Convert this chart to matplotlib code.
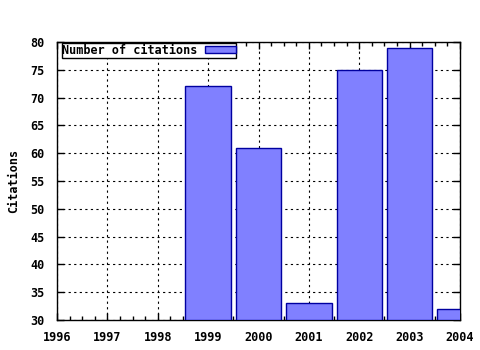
import matplotlib
matplotlib.use("Agg")
import matplotlib.pyplot as plt
from matplotlib.ticker import MultipleLocator

years = [1999, 2000, 2001, 2002, 2003, 2004]
citations = [72, 61, 33, 75, 79, 32]
x_ticks = [1996, 1997, 1998, 1999, 2000, 2001, 2002, 2003, 2004]
y_ticks = [30, 35, 40, 45, 50, 55, 60, 65, 70, 75, 80]

FS = 8.5
plt.rcParams['font.family'] = ['DejaVu Sans Mono']
plt.rcParams['font.weight'] = 'bold'
plt.rcParams['font.size'] = FS

fig = plt.figure(figsize=(4.8, 3.5), dpi=100)
ax = fig.add_axes([57/480, 1-320/350, (460-57)/480, (320-42)/350])

ax.bar(years, [c - 30 for c in citations], bottom=30, width=0.9,
       color='#8080ff', edgecolor='#0000a0', linewidth=1.0,
       label='Number of citations', zorder=3)

ax.set_xlim(1996, 2004)
ax.set_ylim(30, 80)
ax.set_xticks(x_ticks)
ax.set_xticklabels([str(x) for x in x_ticks])
ax.set_yticks(y_ticks)
ax.xaxis.set_minor_locator(MultipleLocator(0.25))
ax.tick_params(axis='both', which='both', direction='in', top=True, right=True,
               colors='black', labelsize=FS)
ax.tick_params(which='major', length=5, width=1)
ax.tick_params(which='minor', length=3, width=1)
ax.tick_params(axis='y', which='major', pad=9)
ax.tick_params(axis='x', which='major', pad=8)
ax.grid(True, which='major', linestyle=(0, (2, 3)), color='black', linewidth=0.8, zorder=0)
for s in ax.spines.values():
    s.set_linewidth(1)
    s.set_color('black')
ax.set_ylabel('Citations', fontsize=FS, fontweight='bold', labelpad=7)

leg = ax.legend(loc='upper left', bbox_to_anchor=(0.012, 0.995), markerfirst=False,
                frameon=True, fancybox=False, borderpad=0.05, handlelength=2.6,
                handleheight=0.55, handletextpad=0.6, borderaxespad=0,
                prop={'family': 'DejaVu Sans Mono', 'weight': 'bold', 'size': FS})
leg.get_frame().set_edgecolor('black')
leg.get_frame().set_linewidth(1)
leg.get_frame().set_alpha(1)

fig.savefig('out.png', dpi=100)
